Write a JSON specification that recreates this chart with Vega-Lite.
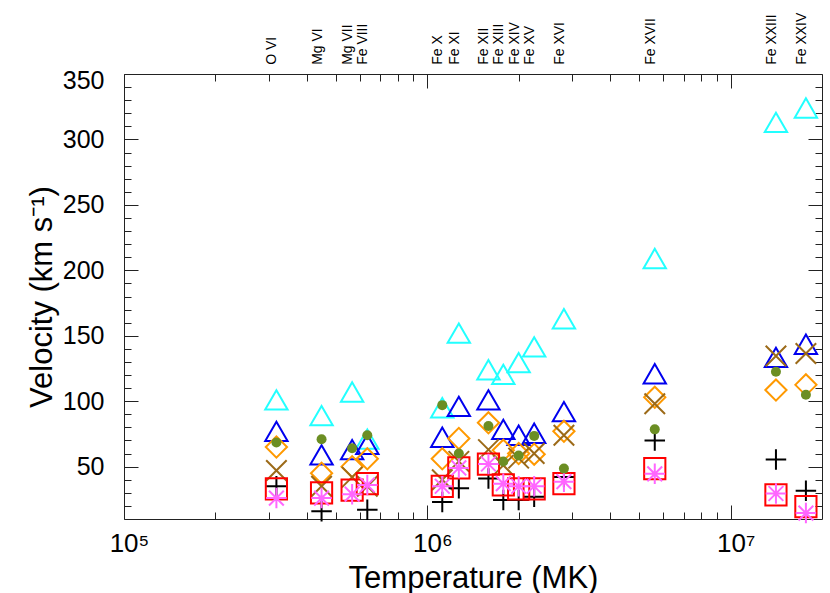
{
  "$schema": "https://vega.github.io/schema/vega-lite/v6.json",
  "width": 698,
  "height": 445,
  "autosize": {"type": "none"},
  "padding": {"left": 124, "top": 74, "right": 8, "bottom": 74},
  "background": "white",
  "config": {
    "font": "Liberation Sans",
    "view": {"stroke": null},
    "axis": {
      "grid": false,
      "domainColor": "#222222",
      "domainWidth": 1,
      "tickColor": "#222222",
      "tickWidth": 1,
      "labelColor": "black",
      "titleColor": "black",
      "labelFont": "Liberation Sans",
      "titleFont": "Liberation Sans",
      "titleFontWeight": "normal"
    }
  },
  "datasets": {
    "points": [
      {"ion": "O VI", "T": 318000, "s": "cyanTri", "v": 101},
      {"ion": "O VI", "T": 318000, "s": "blueTri", "v": 77},
      {"ion": "O VI", "T": 318000, "s": "greenDot", "v": 68.5},
      {"ion": "O VI", "T": 318000, "s": "orangeDia", "v": 65},
      {"ion": "O VI", "T": 318000, "s": "brownX", "v": 47},
      {"ion": "O VI", "T": 318000, "s": "blackPlus", "v": 35},
      {"ion": "O VI", "T": 318000, "s": "redSq", "v": 33},
      {"ion": "O VI", "T": 318000, "s": "magAst", "v": 26},
      {"ion": "Mg VI", "T": 448000, "s": "cyanTri", "v": 89},
      {"ion": "Mg VI", "T": 448000, "s": "blueTri", "v": 59},
      {"ion": "Mg VI", "T": 448000, "s": "greenDot", "v": 71},
      {"ion": "Mg VI", "T": 448000, "s": "orangeDia", "v": 45},
      {"ion": "Mg VI", "T": 448000, "s": "brownX", "v": 35},
      {"ion": "Mg VI", "T": 448000, "s": "blackPlus", "v": 16},
      {"ion": "Mg VI", "T": 448000, "s": "redSq", "v": 30},
      {"ion": "Mg VI", "T": 448000, "s": "magAst", "v": 26},
      {"ion": "Mg VII", "T": 565000, "s": "cyanTri", "v": 107},
      {"ion": "Mg VII", "T": 565000, "s": "blueTri", "v": 63},
      {"ion": "Mg VII", "T": 565000, "s": "greenDot", "v": 64},
      {"ion": "Mg VII", "T": 565000, "s": "orangeDia", "v": 50},
      {"ion": "Mg VII", "T": 565000, "s": "brownX", "v": 42},
      {"ion": "Mg VII", "T": 565000, "s": "redSq", "v": 32},
      {"ion": "Mg VII", "T": 565000, "s": "magAst", "v": 29},
      {"ion": "Fe VIII", "T": 634000, "s": "cyanTri", "v": 71},
      {"ion": "Fe VIII", "T": 634000, "s": "blueTri", "v": 67},
      {"ion": "Fe VIII", "T": 634000, "s": "greenDot", "v": 74},
      {"ion": "Fe VIII", "T": 634000, "s": "orangeDia", "v": 56},
      {"ion": "Fe VIII", "T": 634000, "s": "brownX", "v": 35},
      {"ion": "Fe VIII", "T": 634000, "s": "blackPlus", "v": 17},
      {"ion": "Fe VIII", "T": 634000, "s": "redSq", "v": 37},
      {"ion": "Fe VIII", "T": 634000, "s": "magAst", "v": 36},
      {"ion": "Fe X", "T": 1120000, "s": "cyanTri", "v": 95},
      {"ion": "Fe X", "T": 1120000, "s": "blueTri", "v": 72.5},
      {"ion": "Fe X", "T": 1120000, "s": "greenDot", "v": 97},
      {"ion": "Fe X", "T": 1120000, "s": "orangeDia", "v": 56},
      {"ion": "Fe X", "T": 1120000, "s": "brownX", "v": 40},
      {"ion": "Fe X", "T": 1120000, "s": "blackPlus", "v": 23},
      {"ion": "Fe X", "T": 1120000, "s": "redSq", "v": 35},
      {"ion": "Fe X", "T": 1120000, "s": "magAst", "v": 35},
      {"ion": "Fe XI", "T": 1270000, "s": "cyanTri", "v": 152},
      {"ion": "Fe XI", "T": 1270000, "s": "blueTri", "v": 96},
      {"ion": "Fe XI", "T": 1270000, "s": "greenDot", "v": 60},
      {"ion": "Fe XI", "T": 1270000, "s": "orangeDia", "v": 71.5},
      {"ion": "Fe XI", "T": 1270000, "s": "brownX", "v": 54},
      {"ion": "Fe XI", "T": 1270000, "s": "blackPlus", "v": 33.5},
      {"ion": "Fe XI", "T": 1270000, "s": "redSq", "v": 49},
      {"ion": "Fe XI", "T": 1270000, "s": "magAst", "v": 49},
      {"ion": "Fe XII", "T": 1590000, "s": "cyanTri", "v": 124},
      {"ion": "Fe XII", "T": 1590000, "s": "blueTri", "v": 101},
      {"ion": "Fe XII", "T": 1590000, "s": "greenDot", "v": 81},
      {"ion": "Fe XII", "T": 1590000, "s": "orangeDia", "v": 83.5},
      {"ion": "Fe XII", "T": 1590000, "s": "brownX", "v": 63},
      {"ion": "Fe XII", "T": 1590000, "s": "blackPlus", "v": 41},
      {"ion": "Fe XII", "T": 1590000, "s": "redSq", "v": 52},
      {"ion": "Fe XII", "T": 1590000, "s": "magAst", "v": 52},
      {"ion": "Fe XIII", "T": 1780000, "s": "cyanTri", "v": 120.5},
      {"ion": "Fe XIII", "T": 1780000, "s": "blueTri", "v": 78.5},
      {"ion": "Fe XIII", "T": 1780000, "s": "greenDot", "v": 54},
      {"ion": "Fe XIII", "T": 1780000, "s": "orangeDia", "v": 62.5},
      {"ion": "Fe XIII", "T": 1780000, "s": "brownX", "v": 51},
      {"ion": "Fe XIII", "T": 1780000, "s": "blackPlus", "v": 24.5},
      {"ion": "Fe XIII", "T": 1780000, "s": "redSq", "v": 36},
      {"ion": "Fe XIII", "T": 1780000, "s": "magAst", "v": 37},
      {"ion": "Fe XIV", "T": 2000000, "s": "cyanTri", "v": 129.5},
      {"ion": "Fe XIV", "T": 2000000, "s": "blueTri", "v": 74},
      {"ion": "Fe XIV", "T": 2000000, "s": "greenDot", "v": 58.5},
      {"ion": "Fe XIV", "T": 2000000, "s": "orangeDia", "v": 60},
      {"ion": "Fe XIV", "T": 2000000, "s": "brownX", "v": 56.5},
      {"ion": "Fe XIV", "T": 2000000, "s": "blackPlus", "v": 24.5},
      {"ion": "Fe XIV", "T": 2000000, "s": "redSq", "v": 33},
      {"ion": "Fe XIV", "T": 2000000, "s": "magAst", "v": 35},
      {"ion": "Fe XV", "T": 2250000, "s": "cyanTri", "v": 141.5},
      {"ion": "Fe XV", "T": 2250000, "s": "blueTri", "v": 75.5},
      {"ion": "Fe XV", "T": 2250000, "s": "greenDot", "v": 73.5},
      {"ion": "Fe XV", "T": 2250000, "s": "orangeDia", "v": 59.5},
      {"ion": "Fe XV", "T": 2250000, "s": "brownX", "v": 60},
      {"ion": "Fe XV", "T": 2250000, "s": "blackPlus", "v": 27},
      {"ion": "Fe XV", "T": 2250000, "s": "redSq", "v": 33},
      {"ion": "Fe XV", "T": 2250000, "s": "magAst", "v": 35},
      {"ion": "Fe XVI", "T": 2820000, "s": "cyanTri", "v": 163},
      {"ion": "Fe XVI", "T": 2820000, "s": "blueTri", "v": 92},
      {"ion": "Fe XVI", "T": 2820000, "s": "greenDot", "v": 48.5},
      {"ion": "Fe XVI", "T": 2820000, "s": "orangeDia", "v": 77},
      {"ion": "Fe XVI", "T": 2820000, "s": "brownX", "v": 74},
      {"ion": "Fe XVI", "T": 2820000, "s": "blackPlus", "v": 42},
      {"ion": "Fe XVI", "T": 2820000, "s": "redSq", "v": 37},
      {"ion": "Fe XVI", "T": 2820000, "s": "magAst", "v": 38.5},
      {"ion": "Fe XVII", "T": 5620000, "s": "cyanTri", "v": 209},
      {"ion": "Fe XVII", "T": 5620000, "s": "blueTri", "v": 121},
      {"ion": "Fe XVII", "T": 5620000, "s": "greenDot", "v": 78.5},
      {"ion": "Fe XVII", "T": 5620000, "s": "orangeDia", "v": 103},
      {"ion": "Fe XVII", "T": 5620000, "s": "brownX", "v": 98},
      {"ion": "Fe XVII", "T": 5620000, "s": "blackPlus", "v": 70},
      {"ion": "Fe XVII", "T": 5620000, "s": "redSq", "v": 48.5},
      {"ion": "Fe XVII", "T": 5620000, "s": "magAst", "v": 44.5},
      {"ion": "Fe XXIII", "T": 14100000, "s": "cyanTri", "v": 313},
      {"ion": "Fe XXIII", "T": 14100000, "s": "blueTri", "v": 133.5},
      {"ion": "Fe XXIII", "T": 14100000, "s": "greenDot", "v": 122.5},
      {"ion": "Fe XXIII", "T": 14100000, "s": "orangeDia", "v": 108.5},
      {"ion": "Fe XXIII", "T": 14100000, "s": "brownX", "v": 134.5},
      {"ion": "Fe XXIII", "T": 14100000, "s": "blackPlus", "v": 55.5},
      {"ion": "Fe XXIII", "T": 14100000, "s": "redSq", "v": 28.5},
      {"ion": "Fe XXIII", "T": 14100000, "s": "magAst", "v": 29.5},
      {"ion": "Fe XXIV", "T": 17700000, "s": "cyanTri", "v": 324},
      {"ion": "Fe XXIV", "T": 17700000, "s": "blueTri", "v": 143.5},
      {"ion": "Fe XXIV", "T": 17700000, "s": "greenDot", "v": 105},
      {"ion": "Fe XXIV", "T": 17700000, "s": "orangeDia", "v": 112.5},
      {"ion": "Fe XXIV", "T": 17700000, "s": "brownX", "v": 136.5},
      {"ion": "Fe XXIV", "T": 17700000, "s": "blackPlus", "v": 31.5},
      {"ion": "Fe XXIV", "T": 17700000, "s": "redSq", "v": 19.5},
      {"ion": "Fe XXIV", "T": 17700000, "s": "magAst", "v": 14.5}
    ],
    "ions": [
      {"ion": "O VI", "T": 318000},
      {"ion": "Mg VI", "T": 448000},
      {"ion": "Mg VII", "T": 565000},
      {"ion": "Fe VIII", "T": 634000},
      {"ion": "Fe X", "T": 1120000},
      {"ion": "Fe XI", "T": 1270000},
      {"ion": "Fe XII", "T": 1590000},
      {"ion": "Fe XIII", "T": 1780000},
      {"ion": "Fe XIV", "T": 2000000},
      {"ion": "Fe XV", "T": 2250000},
      {"ion": "Fe XVI", "T": 2820000},
      {"ion": "Fe XVII", "T": 5620000},
      {"ion": "Fe XXIII", "T": 14100000},
      {"ion": "Fe XXIV", "T": 17700000}
    ]
  },
  "layer": [
    {
      "data": {"name": "points"},
      "transform": [{"filter": "datum.s === 'cyanTri'"}],
      "mark": {"type": "point", "shape": "triangle-up", "size": 500, "filled": false, "stroke": "#22ffff", "strokeWidth": 2, "opacity": 1},
      "encoding": {
        "x": {"field": "T", "type": "quantitative", "scale": {"type": "log", "domain": [100000, 20000000], "nice": false},
          "axis": {"orient": "bottom", "values": [100000, 1000000, 10000000], "labelExpr": "datum.value == 100000 ? '10⁵' : datum.value == 1000000 ? '10⁶' : '10⁷'", "tickSize": -14, "labelFontSize": 26, "labelPadding": 25, "labelOffset": 5, "labelFlush": false, "labelOverlap": false, "title": "Temperature (MK)", "titleFontSize": 31, "titlePadding": 7}},
        "y": {"field": "v", "type": "quantitative", "scale": {"domain": [10, 350], "nice": false, "zero": false},
          "axis": {"orient": "left", "values": [50, 100, 150, 200, 250, 300, 350], "tickSize": -14, "labelFontSize": 25, "labelPadding": 34, "labelFlush": true, "labelFlushOffset": 6, "labelOverlap": false, "title": "Velocity (km s⁻¹)", "titleFontSize": 31, "titlePadding": 4}}
      }
    },
    {
      "data": {"name": "points"},
      "transform": [{"filter": "datum.s === 'blueTri'"}],
      "mark": {"type": "point", "shape": "triangle-up", "size": 500, "filled": false, "stroke": "#0000ee", "strokeWidth": 2, "opacity": 1},
      "encoding": {
        "x": {"field": "T", "type": "quantitative", "scale": {"type": "log", "domain": [100000, 20000000], "nice": false},
          "axis": {"orient": "top", "values": [100000, 1000000, 10000000], "tickSize": -14, "labels": false, "title": null}},
        "y": {"field": "v", "type": "quantitative", "scale": {"domain": [10, 350], "nice": false, "zero": false},
          "axis": {"orient": "right", "values": [50, 100, 150, 200, 250, 300, 350], "tickSize": -14, "labels": false, "title": null}}
      }
    },
    {
      "data": {"name": "points"},
      "transform": [{"filter": "datum.s === 'orangeDia'"}],
      "mark": {"type": "point", "shape": "diamond", "size": 450, "filled": false, "stroke": "#ff9900", "strokeWidth": 2, "opacity": 1},
      "encoding": {
        "x": {"field": "T", "type": "quantitative", "scale": {"type": "log", "domain": [100000, 20000000], "nice": false},
          "axis": {"orient": "bottom", "values": [200000, 300000, 400000, 500000, 600000, 700000, 800000, 900000, 2000000, 3000000, 4000000, 5000000, 6000000, 7000000, 8000000, 9000000], "tickSize": -7, "labels": false, "domain": false, "title": null}},
        "y": {"field": "v", "type": "quantitative", "scale": {"domain": [10, 350], "nice": false, "zero": false},
          "axis": {"orient": "left", "values": [20, 30, 40, 60, 70, 80, 90, 110, 120, 130, 140, 160, 170, 180, 190, 210, 220, 230, 240, 260, 270, 280, 290, 310, 320, 330, 340], "tickSize": -7, "labels": false, "domain": false, "title": null}}
      }
    },
    {
      "data": {"name": "points"},
      "transform": [{"filter": "datum.s === 'brownX'"}],
      "mark": {"type": "point", "shape": "M-1,-1L1,1M-1,1L1,-1", "size": 420, "filled": false, "stroke": "#9c6a18", "strokeWidth": 2, "opacity": 1},
      "encoding": {
        "x": {"field": "T", "type": "quantitative", "scale": {"type": "log", "domain": [100000, 20000000], "nice": false},
          "axis": {"orient": "top", "values": [200000, 300000, 400000, 500000, 600000, 700000, 800000, 900000, 2000000, 3000000, 4000000, 5000000, 6000000, 7000000, 8000000, 9000000], "tickSize": -7, "labels": false, "domain": false, "title": null}},
        "y": {"field": "v", "type": "quantitative", "scale": {"domain": [10, 350], "nice": false, "zero": false},
          "axis": {"orient": "right", "values": [20, 30, 40, 60, 70, 80, 90, 110, 120, 130, 140, 160, 170, 180, 190, 210, 220, 230, 240, 260, 270, 280, 290, 310, 320, 330, 340], "tickSize": -7, "labels": false, "domain": false, "title": null}}
      }
    },
    {
      "data": {"name": "points"},
      "transform": [{"filter": "datum.s === 'blackPlus'"}],
      "mark": {"type": "point", "shape": "M-1,0L1,0M0,-1L0,1", "size": 420, "filled": false, "stroke": "black", "strokeWidth": 2, "opacity": 1},
      "encoding": {
        "x": {"field": "T", "type": "quantitative", "scale": {"type": "log", "domain": [100000, 20000000], "nice": false}, "axis": null},
        "y": {"field": "v", "type": "quantitative", "scale": {"domain": [10, 350], "nice": false, "zero": false}, "axis": null}
      }
    },
    {
      "data": {"name": "points"},
      "transform": [{"filter": "datum.s === 'redSq'"}],
      "mark": {"type": "point", "shape": "square", "size": 450, "filled": false, "stroke": "#ff0000", "strokeWidth": 2, "opacity": 1},
      "encoding": {
        "x": {"field": "T", "type": "quantitative", "scale": {"type": "log", "domain": [100000, 20000000], "nice": false}, "axis": null},
        "y": {"field": "v", "type": "quantitative", "scale": {"domain": [10, 350], "nice": false, "zero": false}, "axis": null}
      }
    },
    {
      "data": {"name": "points"},
      "transform": [{"filter": "datum.s === 'magAst'"}],
      "mark": {"type": "point", "shape": "M-1,0L1,0M0,-1L0,1M-0.72,-0.72L0.72,0.72M-0.72,0.72L0.72,-0.72", "size": 420, "filled": false, "stroke": "#ff66ff", "strokeWidth": 2, "opacity": 1},
      "encoding": {
        "x": {"field": "T", "type": "quantitative", "scale": {"type": "log", "domain": [100000, 20000000], "nice": false}, "axis": null},
        "y": {"field": "v", "type": "quantitative", "scale": {"domain": [10, 350], "nice": false, "zero": false}, "axis": null}
      }
    },
    {
      "data": {"name": "points"},
      "transform": [{"filter": "datum.s === 'greenDot'"}],
      "mark": {"type": "point", "shape": "circle", "size": 100, "filled": true, "fill": "#6b8e23", "strokeWidth": 0, "opacity": 1},
      "encoding": {
        "x": {"field": "T", "type": "quantitative", "scale": {"type": "log", "domain": [100000, 20000000], "nice": false}, "axis": null},
        "y": {"field": "v", "type": "quantitative", "scale": {"domain": [10, 350], "nice": false, "zero": false}, "axis": null}
      }
    },
    {
      "data": {"name": "ions"},
      "mark": {"type": "text", "angle": 270, "align": "left", "baseline": "alphabetic", "fontSize": 14, "font": "Liberation Sans", "color": "black"},
      "encoding": {
        "x": {"field": "T", "type": "quantitative", "scale": {"type": "log", "domain": [100000, 20000000], "nice": false}, "axis": null},
        "y": {"datum": 357, "type": "quantitative", "scale": {"domain": [10, 350], "nice": false, "zero": false}, "axis": null},
        "text": {"field": "ion"}
      }
    }
  ],
  "resolve": {"axis": {"x": "independent", "y": "independent"}}
}
